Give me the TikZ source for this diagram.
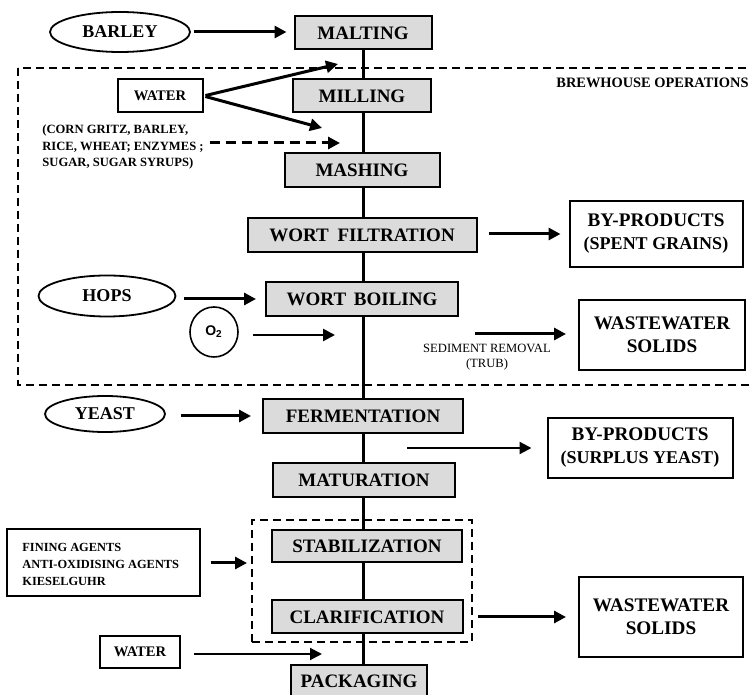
\documentclass[tikz,border=0pt]{standalone}
\usepackage{fontspec}
\setmainfont{Liberation Serif}
\newfontfamily\sansfont{Liberation Sans}
\usetikzlibrary{arrows.meta,shapes.geometric}

\begin{document}
\begin{tikzpicture}[x=.5pt,y=-.5pt,
 stage/.style={draw,fill=black!14,line width=1pt,inner sep=0pt,minimum height=16.5pt,
               font=\bfseries\fontsize{9.5}{11}\selectfont},
 feed/.style={ellipse,draw,line width=.9pt,inner sep=0pt,font=\bfseries\fontsize{9}{11}\selectfont},
 inbox/.style={draw,line width=1pt,inner sep=0pt,font=\bfseries\fontsize{7.3}{9}\selectfont},
 outbox/.style={draw,line width=1pt,inner sep=0pt,align=center,font=\bfseries\fontsize{9.6}{11.5}\selectfont},
 note/.style={inner sep=0pt,align=left,font=\bfseries\fontsize{6.3}{8.3}\selectfont},
 flow/.style={-{Triangle[length=6pt,width=6pt]},line width=1.5pt},
 thinflow/.style={-{Triangle[length=6pt,width=6pt]},line width=1pt},
 region/.style={line width=1pt,dash pattern=on 4pt off 2.5pt}]
 \useasboundingbox (0,0) rectangle (751,695);
 % brewhouse region
 \draw[region] (18,68) rectangle (780,385);
 \node[anchor=west,inner sep=0pt,font=\bfseries\fontsize{7.2}{9}\selectfont] (BH) at (556,83) {BREWHOUSE OPERATIONS};
 % process stages
 \node[stage,minimum width=68.5pt] (MALT) at (363,33) {MALTING};
 \node[stage,minimum width=69pt] (MILL) at (362,96) {MILLING};
 \node[stage,minimum width=77.5pt,minimum height=17pt] (MASH) at (362,170) {MASHING};
 \node[stage,minimum width=114.5pt,minimum height=17pt] (WF) at (362,235) {WORT\hspace{2pt} FILTRATION};
 \node[stage,minimum width=96pt,minimum height=17pt] (WB) at (362,299) {WORT\hspace{1.5pt} BOILING};
 \node[stage,minimum width=100pt,minimum height=17pt] (FERM) at (363,416) {FERMENTATION};
 \node[stage,minimum width=91pt,minimum height=17pt] (MAT) at (364,480) {MATURATION};
 \node[stage,minimum width=95pt,minimum height=16pt] (STAB) at (367,546) {STABILIZATION};
 \node[stage,minimum width=95.5pt] (CLAR) at (367,617) {CLARIFICATION};
 \node[stage,minimum width=68pt,minimum height=16pt] (PACK) at (359,681) {PACKAGING};
 \node[region,draw,minimum width=110pt,minimum height=61pt] (SBOX) at (362,581) {};
 % main line
 \coordinate (spine) at (363,0);
 \foreach \a/\b in {MALT/MILL,MILL/MASH,MASH/WF,WF/WB,WB/FERM,FERM/MAT,MAT/STAB,STAB/CLAR,CLAR/PACK}
   \draw[line width=1.5pt] (spine |- \a.south) -- (spine |- \b.north);
 % inputs
 \node[feed,minimum width=70pt,minimum height=20pt] (BAR) at (120,32) {BARLEY};
 \node[feed,minimum width=68.5pt,minimum height=20.5pt] (HOP) at (107,296) {HOPS};
 \node[feed,minimum width=60pt,minimum height=18pt] (YST) at (105,414) {YEAST};
 \node[ellipse,draw,line width=.8pt,minimum width=24pt,minimum height=25pt,inner sep=0pt,
       font=\sansfont\bfseries\fontsize{7}{8}\selectfont] (OXY) at (214,332) {O\textsubscript{2}};
 \node[inbox,minimum width=42.5pt,minimum height=16.5pt] (WAT1) at (160,96) {WATER};
 \node[inbox,minimum width=40pt,minimum height=16pt] (WAT2) at (140,652) {WATER};
 \node[note,anchor=west] (GRN) at (42,147) {(CORN GRITZ, BARLEY,\\RICE, WHEAT; ENZYMES ;\\SUGAR, SUGAR SYRUPS)};
 \node[inbox,minimum width=96.5pt,minimum height=33.5pt] (FIN) at (103,563) {};
 \node[note,anchor=west,font=\bfseries\fontsize{6.2}{8.5}\selectfont] (FINT) at (22,564)
   {FINING AGENTS\\ANTI-OXIDISING AGENTS\\KIESELGUHR};
 % outputs
 \node[outbox,minimum width=86.5pt,minimum height=33pt] (BYP1) at (656,234)
   {BY-PRODUCTS\\{\fontsize{9}{11}\selectfont(SPENT GRAINS)}};
 \node[outbox,minimum width=83pt,minimum height=35pt] (WW1) at (662,335) {WASTEWATER\\SOLIDS};
 \node[outbox,minimum width=92.5pt,minimum height=30pt] (BYP2) at (640,448)
   {BY-PRODUCTS\\{\fontsize{9}{11}\selectfont(SURPLUS YEAST)}};
 \node[outbox,minimum width=82pt,minimum height=40pt] (WW2) at (661,617) {WASTEWATER\\SOLIDS};
 \node[align=center,inner sep=0pt,font=\fontsize{6.3}{7.2}\selectfont] (SED) at (487,357)
   {SEDIMENT REMOVAL\\(TRUB)};
 % free ends
 \coordinate (w1) at (338,64);
 \coordinate (w2) at (322,128);
 \coordinate (g1) at (340,143);
 \coordinate (o1) at (335,335);
 \coordinate (s1) at (475,334);
 \coordinate (f1) at (407,448);
 \coordinate (w3) at (322,654);
 % connectors
 \draw[flow,shorten <=1.5pt,shorten >=3.5pt] (BAR.east) -- (BAR.east -| MALT.west);
 \draw[flow,shorten <=1pt] (WAT1.east) -- (w1);
 \draw[flow,shorten <=1pt] (WAT1.east) -- (w2);
 \draw[flow,dashed,dash pattern=on 5pt off 3pt,shorten <=3pt] (GRN.east |- g1) -- (g1);
 \draw[flow,shorten <=5.5pt,shorten >=4pt] (WF.east |- BYP1.west) -- (BYP1.west);
 \draw[flow,shorten <=4pt,shorten >=4.5pt] (HOP.east |- WB.west) -- (WB.west);
 \draw[thinflow,line width=1.3pt,shorten <=7pt] (OXY.east |- o1) -- (o1);
 \draw[flow,shorten >=6pt] (s1) -- (s1 -| WW1.west);
 \draw[flow,shorten <=7.5pt,shorten >=5.5pt] (YST.east |- FERM.west) -- (FERM.west);
 \draw[thinflow,line width=1.2pt,shorten >=7.5pt] (f1) -- (f1 -| BYP2.west);
 \draw[flow,shorten <=5pt,shorten >=2pt] (FIN.east) -- (FIN.east -| SBOX.west);
 \draw[flow,shorten <=2.5pt,shorten >=6pt] (SBOX.east |- WW2.west) -- (WW2.west);
 \draw[thinflow,shorten <=6.5pt] (WAT2.east |- w3) -- (w3);
\end{tikzpicture}
\end{document}
